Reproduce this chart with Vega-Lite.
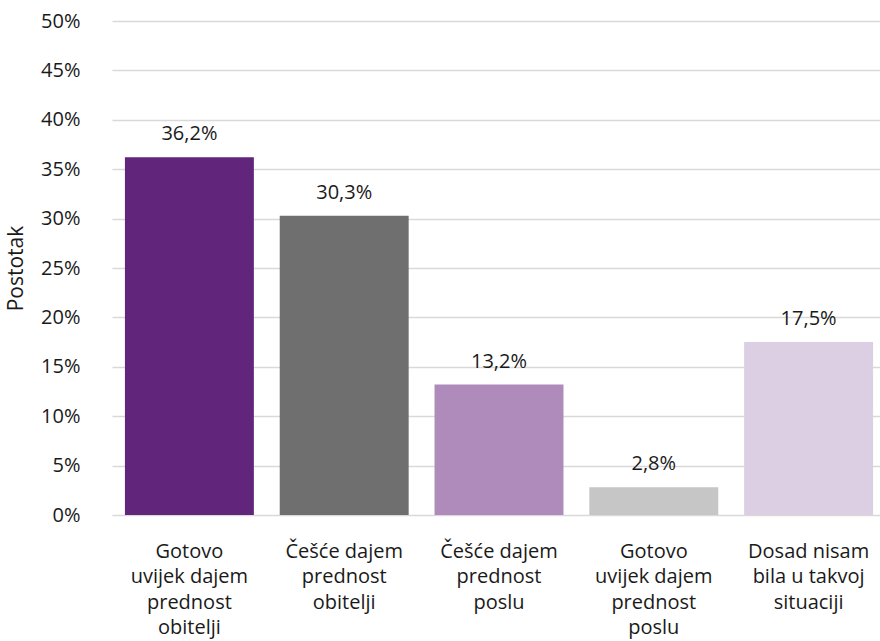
{
  "$schema": "https://vega.github.io/schema/vega-lite/v6.json",
  "width": 774,
  "height": 494,
  "autosize": {"type": "none"},
  "padding": {"left": 112, "top": 21, "right": 0, "bottom": 126},
  "background": "white",
  "config": {
    "view": {"stroke": null},
    "font": "Open Sans",
    "axis": {"labelFont": "Open Sans", "titleFont": "Open Sans"}
  },
  "data": {
    "values": [
      {"kategorija": "Gotovo uvijek dajem prednost obitelji", "postotak": 36.2, "boja": "#62257c"},
      {"kategorija": "Češće dajem prednost obitelji", "postotak": 30.3, "boja": "#6f6f6f"},
      {"kategorija": "Češće dajem prednost poslu", "postotak": 13.2, "boja": "#ae8bbb"},
      {"kategorija": "Gotovo uvijek dajem prednost poslu", "postotak": 2.8, "boja": "#c6c6c6"},
      {"kategorija": "Dosad nisam bila u takvoj situaciji", "postotak": 17.5, "boja": "#dccfe3"}
    ]
  },
  "encoding": {
    "x": {
      "field": "kategorija",
      "type": "nominal",
      "sort": null,
      "scale": {"paddingInner": 0.167, "paddingOuter": 0.0835},
      "axis": {
        "title": null,
        "labelAngle": 0,
        "domain": false,
        "ticks": false,
        "labelPadding": 26,
        "labelFontSize": 20,
        "labelColor": "#1a1a1a",
        "labelLineHeight": 25.5,
        "labelBaseline": "top",
        "labelExpr": "datum.value == 'Gotovo uvijek dajem prednost obitelji' ? ['Gotovo', 'uvijek dajem', 'prednost', 'obitelji'] : datum.value == 'Češće dajem prednost obitelji' ? ['Češće dajem', 'prednost', 'obitelji'] : datum.value == 'Češće dajem prednost poslu' ? ['Češće dajem', 'prednost', 'poslu'] : datum.value == 'Gotovo uvijek dajem prednost poslu' ? ['Gotovo', 'uvijek dajem', 'prednost', 'poslu'] : ['Dosad nisam', 'bila u takvoj', 'situaciji']"
      }
    },
    "y": {
      "field": "postotak",
      "type": "quantitative",
      "scale": {"domain": [0, 50]},
      "axis": {
        "title": "Postotak",
        "titleFontSize": 21,
        "titleFontWeight": "normal",
        "titleColor": "#1a1a1a",
        "titlePadding": 14,
        "values": [0, 5, 10, 15, 20, 25, 30, 35, 40, 45, 50],
        "labelExpr": "datum.value + '%'",
        "labelFontSize": 20,
        "labelColor": "#1a1a1a",
        "labelPadding": 32,
        "domain": false,
        "ticks": false,
        "grid": true,
        "gridColor": "#d9d9d9",
        "gridWidth": 1.5
      }
    }
  },
  "layer": [
    {
      "mark": {"type": "bar"},
      "encoding": {
        "color": {"field": "boja", "type": "nominal", "scale": null, "legend": null}
      }
    },
    {
      "mark": {
        "type": "text",
        "dy": -23,
        "fontSize": 20,
        "color": "#1a1a1a",
        "text": {"expr": "replace(format(datum.postotak, '.1f'), '.', ',') + '%'"}
      },
      "encoding": {}
    }
  ]
}
